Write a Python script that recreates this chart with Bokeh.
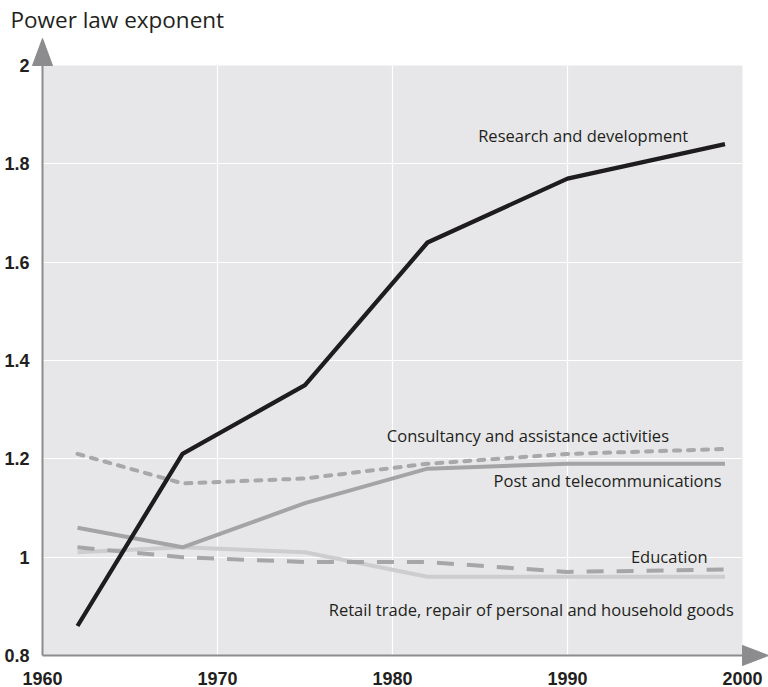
from bokeh.plotting import figure
from bokeh.models import FixedTicker, Label, Range1d
from bokeh.core.properties import value
from bokeh.embed import file_html
from bokeh.resources import INLINE

# ---- data ----
years = [1962, 1968, 1975, 1982, 1990, 1999]
research = [0.86, 1.21, 1.35, 1.64, 1.77, 1.84]
consultancy = [1.21, 1.15, 1.16, 1.19, 1.21, 1.22]
post = [1.06, 1.02, 1.11, 1.18, 1.19, 1.19]
education = [1.02, 1.00, 0.99, 0.99, 0.97, 0.975]
retail = [1.01, 1.02, 1.01, 0.96, 0.96, 0.96]
x_ticks = [1960, 1970, 1980, 1990, 2000]
y_ticks = [0.8, 1.0, 1.2, 1.4, 1.6, 1.8, 2.0]
series_names = ["Research and development",
                "Consultancy and assistance activities",
                "Post and telecommunications",
                "Education",
                "Retail trade, repair of personal and household goods"]
title_text = "Power law exponent"

X0, X1 = 1960, 2000
Y0, Y1 = 0.8, 2.0

FRAME_W, FRAME_H = 700, 590
BL, BR, BT, BB = 42, 26, 65, 32

p = figure(width=BL + FRAME_W + BR, height=BT + FRAME_H + BB,
           x_range=Range1d(X0, X1), y_range=Range1d(Y0, Y1),
           output_backend="svg", toolbar_location=None,
           min_border_left=BL, min_border_right=BR,
           min_border_top=BT, min_border_bottom=BB)

p.border_fill_color = "#ffffff"
p.background_fill_color = "#e7e7e9"
p.outline_line_color = None

AXIS_COLOR = "#8c8c8e"
TICK_FONT = "Liberation Sans"

for ax in (p.xaxis[0], p.yaxis[0]):
    ax.axis_line_color = AXIS_COLOR
    ax.axis_line_width = 2
    ax.major_tick_line_color = None
    ax.minor_tick_line_color = None
    ax.major_label_text_font = TICK_FONT
    ax.major_label_text_font_style = "bold"
    ax.major_label_text_font_size = "18px"
    ax.major_label_text_color = "#231f20"

p.xaxis.ticker = FixedTicker(ticks=x_ticks)
p.yaxis.ticker = FixedTicker(ticks=y_ticks)
p.yaxis.major_label_overrides = {1: "1", 2: "2"}
p.xaxis.major_label_standoff = 10
p.yaxis.major_label_standoff = 7

p.xgrid.ticker = FixedTicker(ticks=x_ticks[1:-1])
p.ygrid.ticker = FixedTicker(ticks=y_ticks[1:-1])
p.grid.grid_line_color = "#ffffff"
p.grid.grid_line_width = 1.2

# ---- series ----
p.line(years, retail, line_color="#cdcdcf", line_width=4)
p.line(years, education, line_color="#a6a6a8", line_width=4, line_dash="17 13")
p.line(years, post, line_color="#a4a4a6", line_width=4)
p.line(years, consultancy, line_color="#a8a8aa", line_width=4, line_dash="6 8",
       line_cap="round")
p.line(years, research, line_color="#1e1c1d", line_width=4.3)

# ---- axis arrow heads (sized in pixels, converted to data units) ----
px_x = (X1 - X0) / FRAME_W
px_y = (Y1 - Y0) / FRAME_H
head_len_y, head_half_y = 27, 10
head_len_x, head_half_x = 26, 10
r1 = p.patch([X0 - head_half_y * px_x, X0 + head_half_y * px_x, X0],
             [Y1, Y1, Y1 + head_len_y * px_y],
             fill_color=AXIS_COLOR, line_color=AXIS_COLOR, line_width=1)
r2 = p.patch([X1, X1, X1 + head_len_x * px_x],
             [Y0 - head_half_x * px_y, Y0 + head_half_x * px_y, Y0],
             fill_color=AXIS_COLOR, line_color=AXIS_COLOR, line_width=1)
r1.level = "overlay"
r2.level = "overlay"

# ---- title (axis caption above the y arrow) ----
t = p.text(x=[X0], y=[Y1], text=[title_text], x_offset=-32, y_offset=-46,
           text_baseline="alphabetic", text_align="left",
           text_font=value("Open Sans"), text_font_size="22.5px",
           text_color="#231f20")
t.level = "overlay"

# ---- series labels ----
LABEL_FONT = "Open Sans"
label_pos = [(1996.9, 1.857), (1995.8, 1.247), (1998.8, 1.156), (1998.0, 1.001), (1999.5, 0.894)]
for name, (lx, ly) in zip(series_names, label_pos):
    p.add_layout(Label(x=lx, y=ly, text=name, text_align="right",
                       text_baseline="middle", text_font=LABEL_FONT,
                       text_font_size="16.5px", text_color="#231f20"))

open("out.html", "w").write(file_html(p, INLINE))
